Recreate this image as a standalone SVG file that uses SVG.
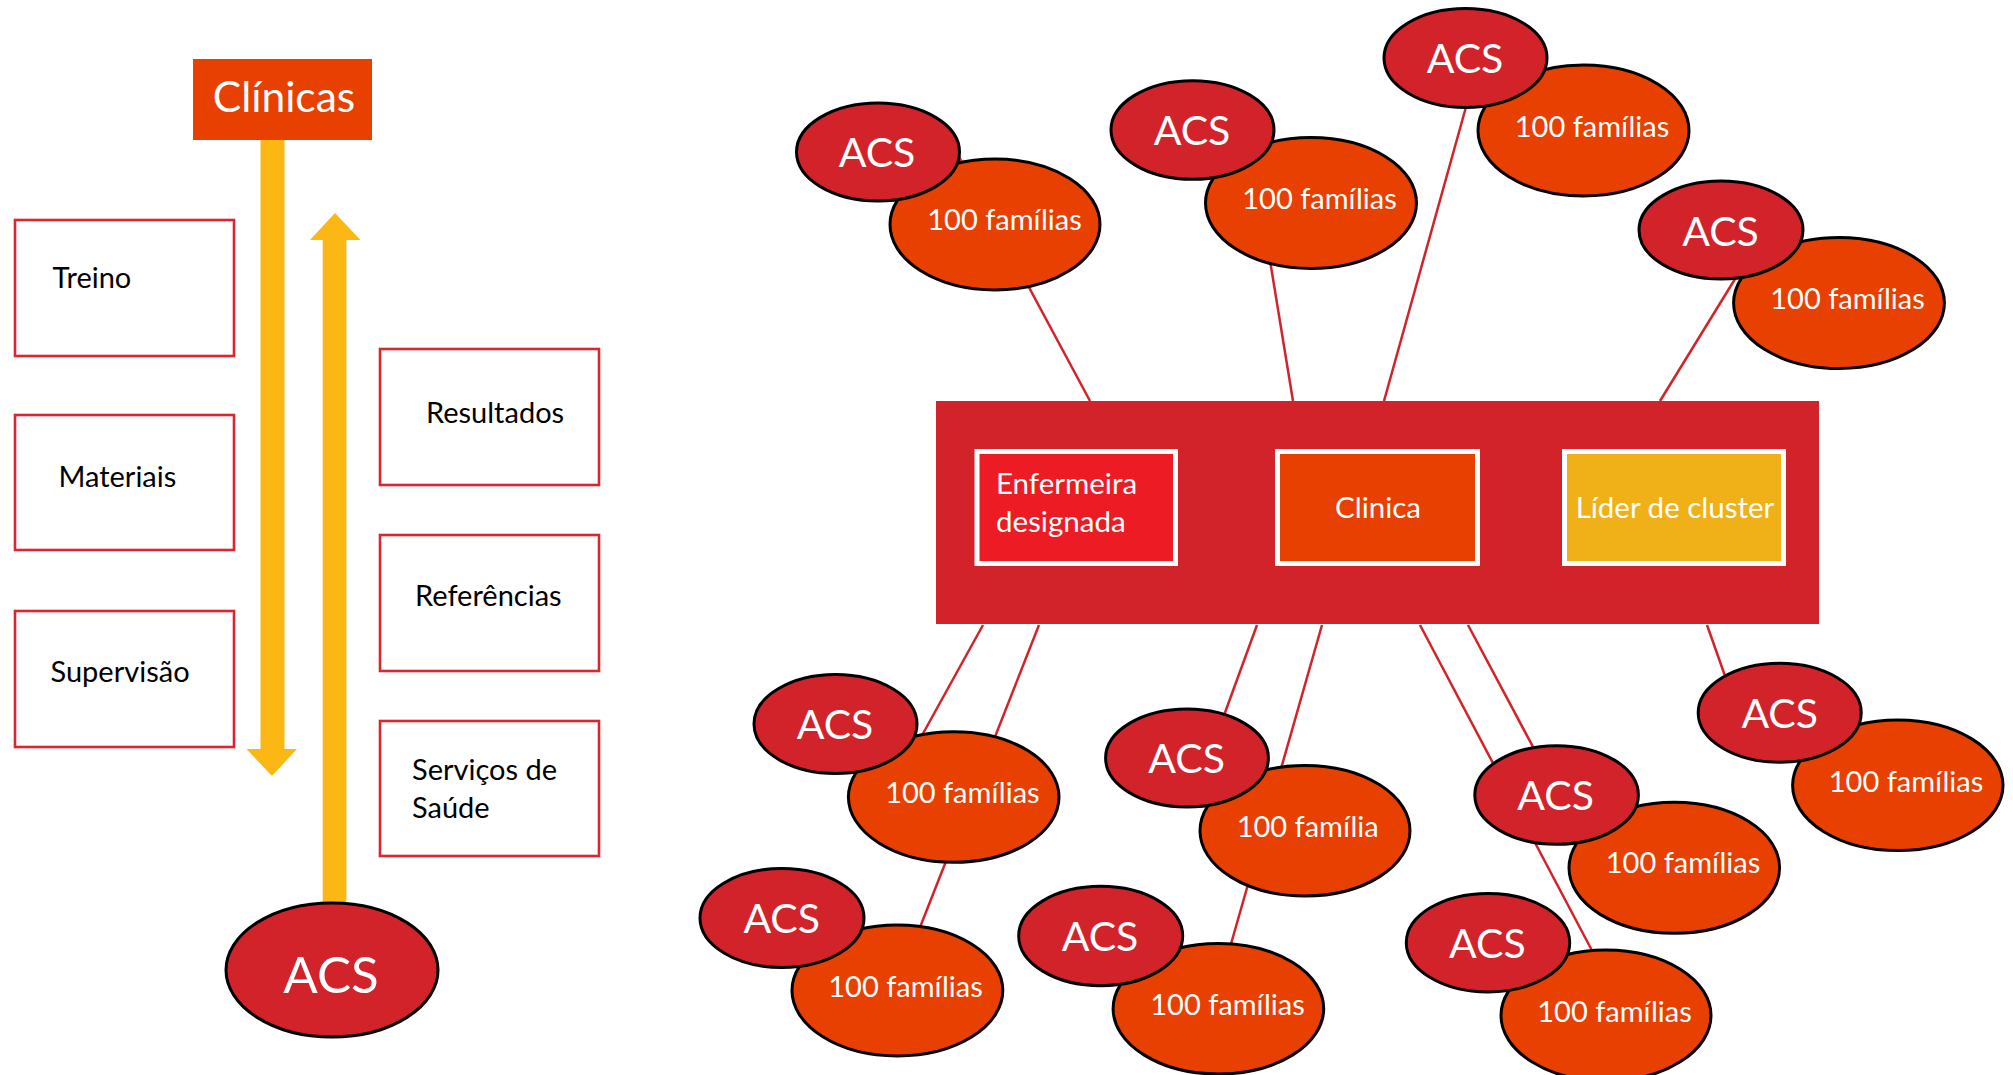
<svg xmlns="http://www.w3.org/2000/svg" width="2013" height="1075" viewBox="0 0 2013 1075">
<style>
.box{fill:#ffffff;stroke:#D9262F;stroke-width:2.6}
.btxt{font-family:Lato,"Liberation Sans",sans-serif;font-size:29px;fill:#000000}
.acs{fill:#D2232A;stroke:#000000;stroke-width:3}
.fam{fill:#E84000;stroke:#000000;stroke-width:3}
.acst{font-family:Lato,"Liberation Sans",sans-serif;font-size:41px;fill:#ffffff;text-anchor:middle}
.famt{font-family:Lato,"Liberation Sans",sans-serif;font-size:29px;fill:#ffffff;text-anchor:middle}
.ctxt{font-family:Lato,"Liberation Sans",sans-serif;font-size:29.5px;fill:#ffffff}
.link{stroke:#D2232A;stroke-width:2.5;fill:none}
.arrow{fill:#FBB714}
.inner{stroke:#ffffff;stroke-width:5}
</style>
<rect x="0" y="0" width="2013" height="1075" fill="#ffffff"/>

<g id="connectors">
<line class="link" x1="1090" y1="401" x2="958" y2="155"/>
<line class="link" x1="1293" y1="401" x2="1265" y2="230"/>
<line class="link" x1="1384" y1="401" x2="1466" y2="107"/>
<line class="link" x1="1660" y1="401" x2="1735" y2="279"/>
<line class="link" x1="983" y1="625" x2="915" y2="748"/>
<line class="link" x1="1039" y1="625" x2="915" y2="940"/>
<line class="link" x1="1257" y1="625" x2="1215" y2="740"/>
<line class="link" x1="1322" y1="625" x2="1225" y2="965"/>
<line class="link" x1="1420" y1="625" x2="1597" y2="960"/>
<line class="link" x1="1468" y1="625" x2="1540" y2="760"/>
<line class="link" x1="1707" y1="625" x2="1730" y2="690"/>
</g>

<g id="arrow-down">
<polygon class="arrow" points="260.5,140 284.5,140 284.5,749 297,749 272,776 246.5,749 260.5,749"/>
</g>
<g id="arrow-up">
<polygon class="arrow" points="322.7,903 346.4,903 346.4,240 360.5,240 335,213 310,240 322.7,240"/>
</g>

<g id="clinicas">
<rect x="193" y="59" width="179" height="81" fill="#E84000"/>
<text x="284" y="112" font-family="Lato,'Liberation Sans',sans-serif" font-size="42.5" fill="#ffffff" text-anchor="middle">Clínicas</text>
</g>

<g id="treino"><rect class="box" x="15" y="220" width="219" height="136"/><text class="btxt" x="52.5" y="288">Treino</text></g>
<g id="materiais"><rect class="box" x="15" y="415" width="219" height="135"/><text class="btxt" x="58.5" y="486.5">Materiais</text></g>
<g id="supervisao"><rect class="box" x="15" y="611" width="219" height="136"/><text class="btxt" x="50.5" y="681.5">Supervisão</text></g>
<g id="resultados"><rect class="box" x="380" y="349" width="219" height="136"/><text class="btxt" x="426" y="423">Resultados</text></g>
<g id="referencias"><rect class="box" x="380" y="535" width="219" height="136"/><text class="btxt" x="415" y="605.5">Referências</text></g>
<g id="servicos"><rect class="box" x="380" y="721" width="219" height="135"/><text class="btxt" x="412" y="780">Serviços de</text><text class="btxt" x="412" y="817.5">Saúde</text></g>

<g id="acs-main">
<ellipse class="acs" cx="332" cy="970" rx="106" ry="67"/>
<text x="331" y="993" font-family="Lato,'Liberation Sans',sans-serif" font-size="51" fill="#ffffff" text-anchor="middle">ACS</text>
</g>

<g id="centro">
<rect x="936" y="401" width="883" height="223" fill="#D2232A"/>
<g id="enfermeira"><rect class="inner" x="977" y="451.5" width="198.5" height="112" fill="#ED1C24"/><text class="ctxt" x="996" y="494">Enfermeira</text><text class="ctxt" x="996" y="531.5">designada</text></g>
<g id="clinica"><rect class="inner" x="1277.5" y="451.5" width="200" height="112" fill="#E84000"/><text class="ctxt" x="1378" y="517.5" text-anchor="middle">Clinica</text></g>
<g id="lider"><rect class="inner" x="1564.5" y="451.5" width="219" height="112" fill="#EFB018"/><text class="ctxt" x="1675" y="517.5" text-anchor="middle">Líder de cluster</text></g>
</g>

<g id="par1"><ellipse class="fam" cx="995" cy="224.5" rx="105" ry="65.5"/><text class="famt" x="1004.5" y="230">100 famílias</text><ellipse class="acs" cx="878" cy="152" rx="81.5" ry="49"/><text class="acst" x="877" y="166.5">ACS</text></g>
<g id="par2"><ellipse class="fam" cx="1311" cy="203" rx="105.5" ry="65.5"/><text class="famt" x="1319.5" y="208.5">100 famílias</text><ellipse class="acs" cx="1192.5" cy="130" rx="81.5" ry="49.3"/><text class="acst" x="1192" y="145">ACS</text></g>
<g id="par3"><ellipse class="fam" cx="1583.5" cy="130.5" rx="105.5" ry="65.5"/><text class="famt" x="1592" y="136.5">100 famílias</text><ellipse class="acs" cx="1465.5" cy="58" rx="81.5" ry="49.5"/><text class="acst" x="1465" y="72.5">ACS</text></g>
<g id="par4"><ellipse class="fam" cx="1839" cy="303" rx="105.4" ry="65.5"/><text class="famt" x="1847.5" y="308.5">100 famílias</text><ellipse class="acs" cx="1721" cy="230" rx="82" ry="49"/><text class="acst" x="1720.5" y="245.5">ACS</text></g>

<g id="par5"><ellipse class="fam" cx="953.7" cy="797" rx="105.3" ry="65.3"/><text class="famt" x="962.4" y="802.5">100 famílias</text><ellipse class="acs" cx="835.5" cy="724" rx="81.5" ry="49.5"/><text class="acst" x="835" y="739">ACS</text></g>
<g id="par6"><ellipse class="fam" cx="897.4" cy="990.5" rx="105.4" ry="65.5"/><text class="famt" x="905.5" y="996.5">100 famílias</text><ellipse class="acs" cx="782" cy="918" rx="82" ry="49.5"/><text class="acst" x="781.7" y="932.5">ACS</text></g>
<g id="par7"><ellipse class="fam" cx="1305" cy="830.7" rx="105" ry="65.3"/><text class="famt" x="1307.7" y="836.5">100 família</text><ellipse class="acs" cx="1187" cy="758" rx="81.4" ry="49"/><text class="acst" x="1186.6" y="773">ACS</text></g>
<g id="par8"><ellipse class="fam" cx="1218.4" cy="1008.7" rx="105.3" ry="65.3"/><text class="famt" x="1227.5" y="1015">100 famílias</text><ellipse class="acs" cx="1100.7" cy="936" rx="82" ry="49.7"/><text class="acst" x="1100" y="950.5">ACS</text></g>
<g id="par9"><ellipse class="fam" cx="1674.3" cy="867.8" rx="105.3" ry="65.5"/><text class="famt" x="1683" y="873">100 famílias</text><ellipse class="acs" cx="1556.6" cy="795" rx="81.8" ry="49.3"/><text class="acst" x="1555.6" y="810">ACS</text></g>
<g id="par10"><ellipse class="fam" cx="1606" cy="1015.5" rx="105" ry="65.5"/><text class="famt" x="1614.5" y="1021.5">100 famílias</text><ellipse class="acs" cx="1488" cy="942.7" rx="81.7" ry="49.3"/><text class="acst" x="1487.4" y="957.5">ACS</text></g>
<g id="par11"><ellipse class="fam" cx="1897.8" cy="785.3" rx="105.2" ry="65.3"/><text class="famt" x="1906" y="791.5">100 famílias</text><ellipse class="acs" cx="1779.7" cy="712.8" rx="81.5" ry="49.5"/><text class="acst" x="1779.7" y="728">ACS</text></g>
</svg>
